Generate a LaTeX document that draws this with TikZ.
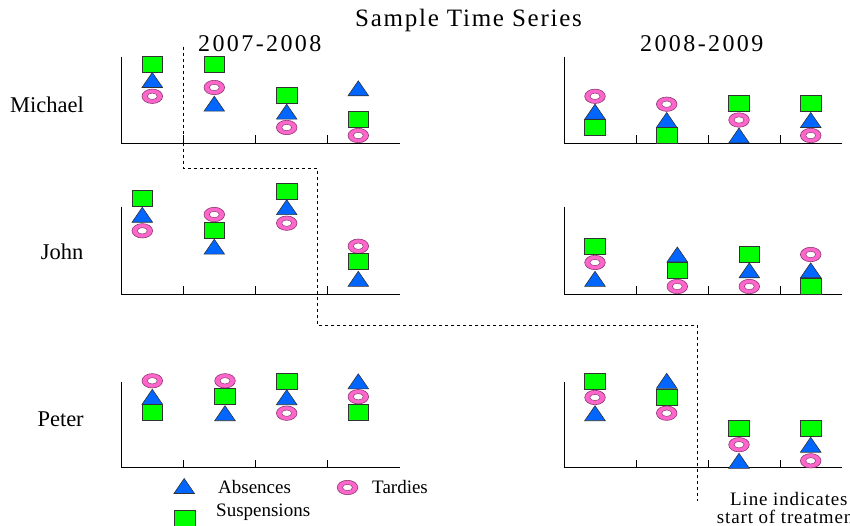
\documentclass[tikz,border=0pt]{standalone}
\usepackage{fontspec}
\setmainfont{Liberation Serif}
\newfontfamily\spacedA[LetterSpace=7]{Liberation Serif}
\newfontfamily\spacedB[LetterSpace=10]{Liberation Serif}
\newfontfamily\spacedC[LetterSpace=4.5]{Liberation Serif}
\definecolor{tblue}{RGB}{0,102,255}
\definecolor{tgreen}{RGB}{0,255,0}
\definecolor{tpink}{RGB}{255,102,204}
\tikzset{
  axisln/.style={black,line width=1pt},
  sqshape/.style={fill=tgreen,draw=black!80,line width=0.6pt},
  trishape/.style={fill=tblue,draw=black!80,line width=0.6pt},
  ringshape/.style={fill=tpink,draw=black!45!tpink,line width=0.6pt},
  holeshape/.style={fill=white,draw=black!45!tpink,line width=0.5pt},
  treat/.style={black,dash pattern=on 3pt off 3pt,line width=0.8pt},
  lbl/.style={inner sep=0pt,anchor=base west},
  sqm/.pic={\path[sqshape] (-10.3,-8) rectangle (10.3,8);},
  trim/.pic={\path[trishape] (-10.3,7.5) -- (10.3,7.5) -- (0,-7.5) -- cycle;},
  ringm/.pic={\path[ringshape] (0,0) ellipse [x radius=10.3, y radius=7.2];
              \path[holeshape] (0,0) ellipse [x radius=5, y radius=3.2];},
}
\begin{document}
\begin{tikzpicture}[x=1pt,y=-1pt]
\useasboundingbox (0,0) rectangle (850,526);
\clip (0,0) rectangle (850,526);

% titles
\node[lbl] (title) at (355,27) {\spacedA\fontsize{25}{28}\selectfont Sample Time Series};
\node[lbl] (yearA) at (198,51.7) {\spacedB\fontsize{24}{28}\selectfont 2007-2008};
\node[lbl] (yearB) at (640,51.7) {\spacedB\fontsize{24}{28}\selectfont 2008-2009};
\node[lbl] (michael) at (10,112.3) {\fontsize{22.5}{26}\selectfont Michael};
\node[lbl] (john) at (40.7,260) {\fontsize{22.5}{26}\selectfont John};
\node[lbl] (peter) at (37.3,426.7) {\fontsize{22.5}{26}\selectfont Peter};

% axes
\foreach \yt/\yb in {56.7/143.3, 206.7/294, 381.5/467.7}{
  \draw[axisln] (121.7,\yt) -- (121.7,\yb) -- (400,\yb);
  \foreach \tx in {183.3,255.7,327.7} \draw[axisln] (\tx,\yb) -- ++(0,-8);
  \draw[axisln] (564.3,\yt) -- (564.3,\yb) -- (841.7,\yb);
  \foreach \tx in {636.7,708.3,780} \draw[axisln] (\tx,\yb) -- ++(0,-8);
}

% Michael 2007-2008
\pic at (152.3,64.2) {sqm}; \pic at (152.3,80) {trim}; \pic at (152.3,96.3) {ringm};
\pic at (214.3,64.2) {sqm}; \pic at (214.3,87.5) {ringm}; \pic at (214.3,103.7) {trim};
\pic at (286.7,95) {sqm}; \pic at (286.7,111.7) {trim}; \pic at (286.7,127.5) {ringm};
\pic at (358.3,88.3) {trim}; \pic at (358.3,119.5) {sqm}; \pic at (358.3,135.5) {ringm};
% Michael 2008-2009
\pic at (595,96.3) {ringm}; \pic at (595,111.7) {trim}; \pic at (595,127.2) {sqm};
\pic at (666.7,104.2) {ringm}; \pic at (666.7,120) {trim}; \pic at (666.7,135) {sqm};
\pic at (739,103.8) {sqm}; \pic at (739,120) {ringm}; \pic at (739,135.5) {trim};
\pic at (810.7,103.8) {sqm}; \pic at (810.7,120) {trim}; \pic at (810.7,135.5) {ringm};

% John 2007-2008
\pic at (142.3,198.8) {sqm}; \pic at (142.3,214.8) {trim}; \pic at (142.3,230.8) {ringm};
\pic at (214.3,214.5) {ringm}; \pic at (214.3,230.3) {sqm}; \pic at (214.3,246.7) {trim};
\pic at (286.7,191.3) {sqm}; \pic at (286.7,207.2) {trim}; \pic at (286.7,223.2) {ringm};
\pic at (358.3,246.2) {ringm}; \pic at (358.3,261.7) {sqm}; \pic at (358.3,278.8) {trim};
% John 2008-2009
\pic at (595,246.2) {sqm}; \pic at (595,262.5) {ringm}; \pic at (595,278.8) {trim};
\pic at (677.3,254.5) {trim}; \pic at (677.3,270.3) {sqm}; \pic at (677.3,286.5) {ringm};
\pic at (749.3,254.2) {sqm}; \pic at (749.3,270.3) {trim}; \pic at (749.3,286.5) {ringm};
\pic at (810.7,254.5) {ringm}; \pic at (810.7,270.3) {trim}; \pic at (810.7,286.2) {sqm};

% Peter 2007-2008
\pic at (152.3,380.8) {ringm}; \pic at (152.3,396.8) {trim}; \pic at (152.3,412.5) {sqm};
\pic at (225,380.8) {ringm}; \pic at (225,396.7) {sqm}; \pic at (225,413.2) {trim};
\pic at (286.7,381.3) {sqm}; \pic at (286.7,397.2) {trim}; \pic at (286.7,413.2) {ringm};
\pic at (358.3,381.3) {trim}; \pic at (358.3,396.7) {ringm}; \pic at (358.3,412.5) {sqm};
% Peter 2008-2009
\pic at (595,381.2) {sqm}; \pic at (595,397.5) {ringm}; \pic at (595,413.2) {trim};
\pic at (666.7,380.8) {trim}; \pic at (666.7,397) {sqm}; \pic at (666.7,413.2) {ringm};
\pic at (739,428) {sqm}; \pic at (739,444.7) {ringm}; \pic at (739,460.8) {trim};
\pic at (810.7,428) {sqm}; \pic at (810.7,444.7) {trim}; \pic at (810.7,460.8) {ringm};

% treatment line
\coordinate (t0) at (183.3,46.7);
\coordinate (t1) at (183.3,168);
\coordinate (t2) at (317.3,168);
\coordinate (t3) at (317.3,325);
\coordinate (t4) at (697.3,325);
\coordinate (t5) at (697.3,501);
\draw[treat] (t0) -- (t1) -- (t2) -- (t3) -- (t4) -- (t5);

% legend
\pic at (184.2,486) {trim};
\pic at (347.5,487.5) {ringm};
\pic at (185,518) {sqm};
\node[lbl] (legA) at (218,493.3) {\fontsize{19}{22}\selectfont Absences};
\node[lbl] (legT) at (372,493.3) {\fontsize{19}{22}\selectfont Tardies};
\node[lbl] (legS) at (216,516) {\fontsize{19}{22}\selectfont Suspensions};

% note
\node[lbl] (note1) at (730,505) {\spacedC\fontsize{19}{22}\selectfont Line indicates};
\node[lbl] (note2) at (716.7,523) {\spacedC\fontsize{19}{22}\selectfont start of treatment};
\end{tikzpicture}
\end{document}
